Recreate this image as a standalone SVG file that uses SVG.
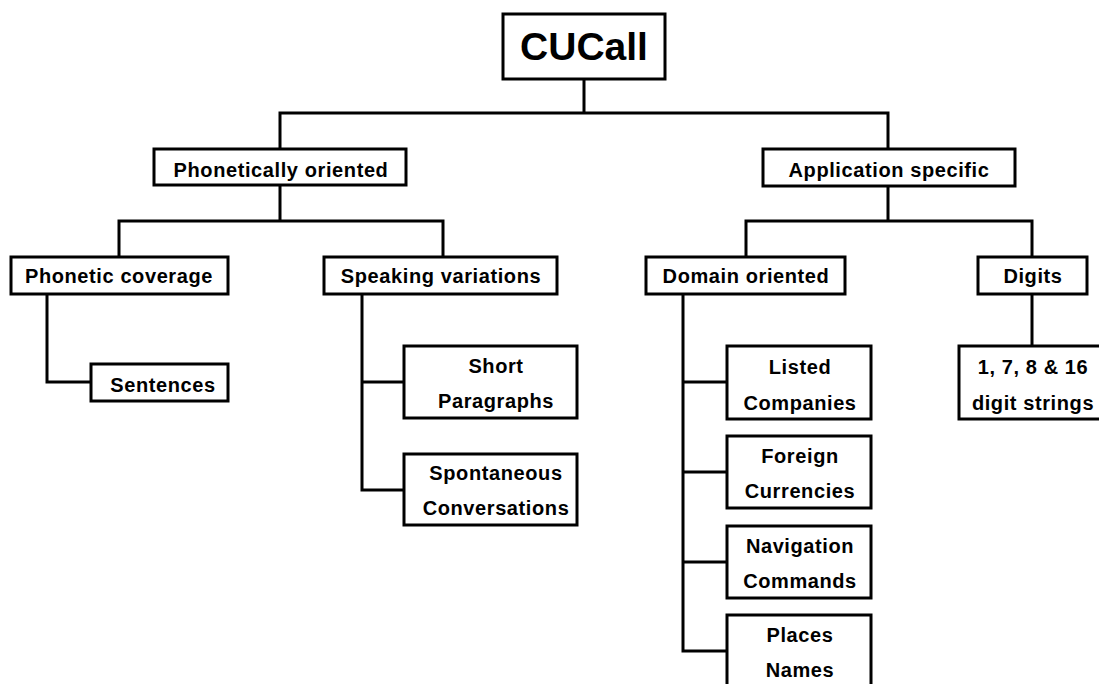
<svg xmlns="http://www.w3.org/2000/svg" width="1099" height="684" viewBox="0 0 1099 684">
<style>
.box{fill:#fff;stroke:#000;stroke-width:3}
.t{font-family:"Liberation Sans",Arial,sans-serif;font-weight:bold;font-size:20px;letter-spacing:0.6px;text-anchor:middle;fill:#000}
.big{font-size:39px;letter-spacing:0}
.c{fill:none;stroke:#000;stroke-width:3;stroke-linecap:square}
</style>
<rect width="1099" height="684" fill="#fff"/>
<g id="connectors">
<path class="c" d="M584,79 V113 M280,113 H888 M280,113 V149 M888,113 V149"/>
<path class="c" d="M280,185 V221 M119,221 H443 M119,221 V257 M443,221 V257"/>
<path class="c" d="M888,186 V221 M746,221 H1032 M746,221 V257 M1032,221 V257"/>
<path class="c" d="M47,294 V382 H91"/>
<path class="c" d="M362,294 V490 H404 M362,382 H404"/>
<path class="c" d="M683,294 V651 H727 M683,382 H727 M683,472 H727 M683,562 H727"/>
<path class="c" d="M1032,294 V346"/>
</g>
<g id="cucall"><rect class="box" x="503" y="14" width="162" height="65"/><text class="t big" x="584" y="60">CUCall</text></g>
<g id="phonetically"><rect class="box" x="154" y="149" width="252" height="36"/><text class="t" x="281" y="177">Phonetically oriented</text></g>
<g id="application"><rect class="box" x="763" y="149" width="252" height="37"/><text class="t" x="889" y="177">Application specific</text></g>
<g id="phonetic-coverage"><rect class="box" x="11" y="257" width="217" height="37"/><text class="t" x="119" y="283">Phonetic coverage</text></g>
<g id="speaking"><rect class="box" x="324" y="257" width="233" height="37"/><text class="t" x="441" y="283">Speaking variations</text></g>
<g id="domain"><rect class="box" x="646" y="257" width="199" height="37"/><text class="t" x="746" y="283">Domain oriented</text></g>
<g id="digits"><rect class="box" x="978" y="257" width="109" height="37"/><text class="t" x="1033" y="283">Digits</text></g>
<g id="sentences"><rect class="box" x="91" y="364" width="137" height="37"/><text class="t" x="163" y="392">Sentences</text></g>
<g id="short"><rect class="box" x="404" y="346" width="173" height="72"/><text class="t" x="496" y="373">Short</text><text class="t" x="496" y="408">Paragraphs</text></g>
<g id="spontaneous"><rect class="box" x="404" y="454" width="173" height="71"/><text class="t" x="496" y="480">Spontaneous</text><text class="t" x="496" y="515">Conversations</text></g>
<g id="listed"><rect class="box" x="727" y="346" width="144" height="73"/><text class="t" x="800" y="374">Listed</text><text class="t" x="800" y="410">Companies</text></g>
<g id="foreign"><rect class="box" x="727" y="436" width="144" height="72"/><text class="t" x="800" y="463">Foreign</text><text class="t" x="800" y="498">Currencies</text></g>
<g id="navigation"><rect class="box" x="727" y="526" width="144" height="72"/><text class="t" x="800" y="553">Navigation</text><text class="t" x="800" y="588">Commands</text></g>
<g id="places"><rect class="box" x="727" y="615" width="144" height="75"/><text class="t" x="800" y="642">Places</text><text class="t" x="800" y="677">Names</text></g>
<g id="digit-strings"><rect class="box" x="959" y="346" width="146" height="73"/><text class="t" x="1033" y="374">1, 7, 8 &amp; 16</text><text class="t" x="1033" y="410">digit strings</text></g>
</svg>
